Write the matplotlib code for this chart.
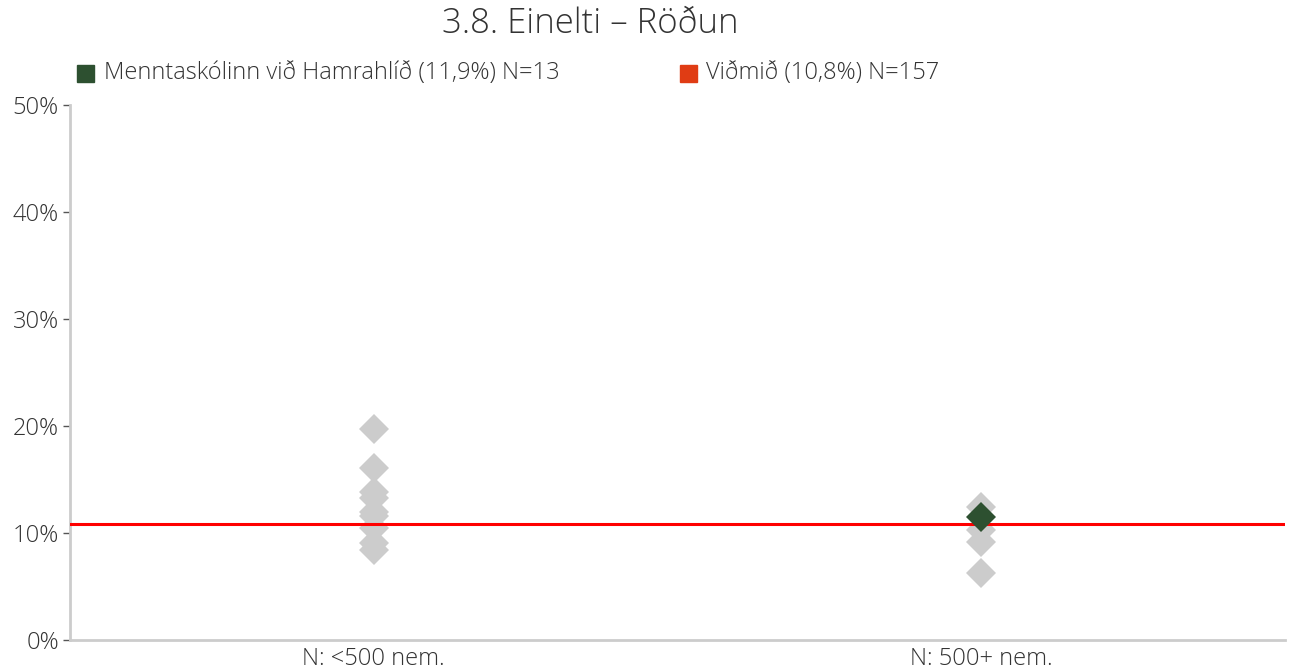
import matplotlib
matplotlib.use("Agg")
import matplotlib.pyplot as plt
from matplotlib.patches import Rectangle

plt.rcParams['font.family'] = ['Open Sans', 'DejaVu Sans']

title = "3.8. Einelti – Röðun"
categories = ["N: <500 nem.", "N: 500+ nem."]
others_small = [19.7, 16.1, 13.8, 13.3, 12.0, 11.6, 10.5, 9.1, 8.4]
others_large = [12.4, 10.3, 9.2, 6.3]
school_cat = 1
school_value = 11.5
benchmark = 10.8
legend_labels = ["Menntaskólinn við Hamrahlíð (11,9%) N=13", "Viðmið (10,8%) N=157"]
yticks = [0, 10, 20, 30, 40, 50]

text_color = "#333333"
grey = "#cccccc"
fs = 17
fw = 'light'

fig = plt.figure(figsize=(12.95, 6.7), dpi=100)
ax = fig.add_axes([70/1295, 30/670, 1215/1295, 535/670])

ax.plot([0]*len(others_small), others_small, linestyle='none', marker='D',
        ms=15, color=grey, markeredgewidth=0)
ax.plot([1]*len(others_large), others_large, linestyle='none', marker='D',
        ms=15, color=grey, markeredgewidth=0)
ax.axhline(benchmark, color='#ff0000', lw=2.2, zorder=3)
ax.plot([school_cat], [school_value], linestyle='none', marker='D', ms=15,
        color='#2d5030', markeredgewidth=0, zorder=4)

ax.set_xlim(-0.5, 1.5)
ax.set_ylim(0, 50)
ax.set_xticks(range(len(categories)))
ax.set_xticklabels(categories, fontsize=fs, color=text_color, fontweight=fw)
ax.tick_params(axis='x', length=0, pad=5)
ax.set_yticks(yticks)
ax.set_yticklabels([f"{v}%" for v in yticks], fontsize=fs, color=text_color, fontweight=fw)
ax.tick_params(axis='y', length=5, width=1, color='#555555', pad=3)
for s in ['top', 'right']:
    ax.spines[s].set_visible(False)
for s in ['left', 'bottom']:
    ax.spines[s].set_color(grey)
    ax.spines[s].set_linewidth(2)

fig.text(590/1295, 1 - 24/670, title, ha='center', va='center', fontsize=25,
         color=text_color, fontweight=fw)

# legend
for (x0, tx, lab, col) in [(77, 104, legend_labels[0], '#2d5030'), (680, 706, legend_labels[1], '#e03c14')]:
    fig.patches.append(Rectangle((x0/1295, 1 - 82/670), 17/1295, 17/670,
                                 transform=fig.transFigure, color=col))
    fig.text(tx/1295, 1 - 73/670, lab, ha='left', va='center', fontsize=fs,
             color=text_color, fontweight=fw)

fig.savefig("out.png", dpi=100)
